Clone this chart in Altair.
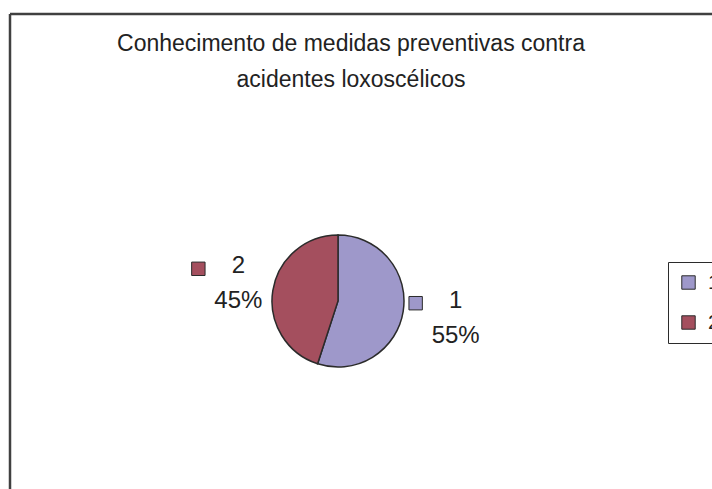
import altair as alt
import pandas as pd

# ---- data ----
categories = ["1", "2"]
values = [55, 45]
title_lines = ["Conhecimento de medidas preventivas contra", "acidentes loxoscélicos"]

# ---- style / layout ----
colors = ["#9E98CA", "#A44F5E"]
W, H = 712, 489
CX, CY, R = 338, 301, 66
LR, LDX = 110, 9
FONT = "Liberation Sans"
TXT = "#222222"
EDGE = "#2b2b2b"

df = pd.DataFrame({"cat": categories, "value": values})
color_scale = alt.Scale(domain=categories, range=colors)

base = (
    alt.Chart(df)
    .transform_joinaggregate(total="sum(value)")
    .transform_window(cum="sum(value)", sort=[alt.SortField("cat", order="ascending")], frame=[None, 0])
    .transform_calculate(
        mid="(datum.cum - datum.value/2)/datum.total*2*PI",
        pct="format(datum.value/datum.total, '.0%')",
        lx=f"{CX} + {LR}*sin(datum.mid) + {LDX}",
        ly=f"{CY} - {LR}*cos(datum.mid)",
    )
)

arc = base.mark_arc(radius=R, stroke=EDGE, strokeWidth=1.5).encode(
    theta=alt.Theta("value:Q", stack=True),
    color=alt.Color(
        "cat:N",
        scale=color_scale,
        legend=alt.Legend(
            title=None,
            orient="none",
            legendX=668,
            legendY=262,
            symbolType="square",
            symbolSize=180,
            symbolStrokeColor=EDGE,
            symbolStrokeWidth=1,
            symbolOpacity=1,
            labelFontSize=21,
            labelFont=FONT,
            labelColor=TXT,
            strokeColor=EDGE,
            padding=10,
            rowPadding=18,
            labelOffset=9,
        ),
    ),
    order=alt.Order("cat:N"),
    x=alt.value(CX),
    y=alt.value(CY),
)

line1 = base.transform_calculate(ty="datum.ly - 17.5").mark_text(
    fontSize=24, font=FONT, color=TXT, baseline="middle", align="center"
).encode(
    x=alt.X("lx:Q", scale=None, axis=None),
    y=alt.Y("ty:Q", scale=None, axis=None),
    text="cat:N",
)

line2 = base.transform_calculate(ty="datum.ly + 17.5").mark_text(
    fontSize=24, font=FONT, color=TXT, baseline="middle", align="center"
).encode(
    x=alt.X("lx:Q", scale=None, axis=None),
    y=alt.Y("ty:Q", scale=None, axis=None),
    text="pct:N",
)

markers = base.transform_calculate(mx="datum.lx - 40", my="datum.ly - 15").mark_square(
    size=180, stroke=EDGE, strokeWidth=1, opacity=1, filled=True
).encode(
    x=alt.X("mx:Q", scale=None, axis=None),
    y=alt.Y("my:Q", scale=None, axis=None),
    color=alt.Color("cat:N", scale=color_scale, legend=None),
)

frame_df = pd.DataFrame({"k": [0]})
border_top = alt.Chart(frame_df).mark_rule(stroke="#404040", strokeWidth=2.5).encode(
    x=alt.value(10), x2=alt.value(W), y=alt.value(14)
)
border_left = alt.Chart(frame_df).mark_rule(stroke="#404040", strokeWidth=2.5).encode(
    x=alt.value(10), y=alt.value(14), y2=alt.value(H)
)

chart = (
    alt.layer(border_top, border_left, arc, markers, line1, line2)
    .properties(
        width=W,
        height=H,
        padding=0,
        autosize="none",
        background="white",
        title=alt.TitleParams(
            text=title_lines,
            fontSize=23,
            font=FONT,
            fontWeight="normal",
            color=TXT,
            lineHeight=36,
            anchor="middle",
            dx=-5,
            baseline="top",
            offset=0,
            dy=92,
        ),
    )
    .configure_view(stroke=None)
)

chart.save("out.html", embed_options={"renderer": "svg", "actions": False})
